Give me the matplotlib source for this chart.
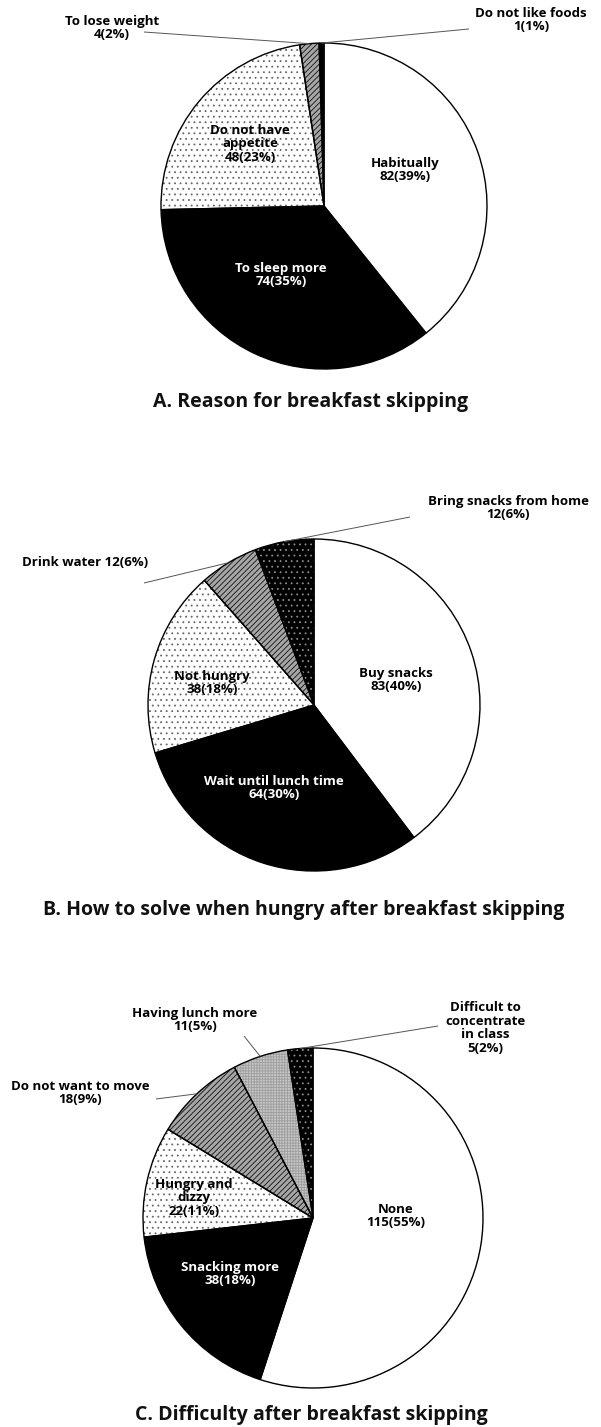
import numpy as np
import matplotlib
matplotlib.use("Agg")
import matplotlib.pyplot as plt

W, H = 601, 1427

# ---- data -------------------------------------------------------------
reason_labels = ["Habitually", "To sleep more", "Do not have\nappetite",
                 "To lose weight", "Do not like foods"]
reason_counts = [82, 74, 48, 4, 1]
reason_pcts   = [39, 35, 23, 2, 1]

hungry_labels = ["Buy snacks", "Wait until lunch time", "Not hungry",
                 "Drink water", "Bring snacks from home"]
hungry_counts = [83, 64, 38, 12, 12]
hungry_pcts   = [40, 30, 18, 6, 6]

diff_labels = ["None", "Snacking more", "Hungry and\ndizzy",
               "Do not want to move", "Having lunch more",
               "Difficult to\nconcentrate\nin class"]
diff_counts = [115, 38, 22, 18, 11, 5]
diff_pcts   = [55, 18, 11, 9, 5, 2]

titles = ["A. Reason for breakfast skipping",
          "B. How to solve when hungry after breakfast skipping",
          "C. Difficulty after breakfast skipping"]

# ---- styles -----------------------------------------------------------
# (face, hatch, hatch colour, text colour)
STYLE = {
    "white":    ("white",   None,      "black",   "black"),
    "black":    ("black",   None,      "black",   "white"),
    "dots":     ("white",   "...",     "#666666", "black"),
    "diag":     ("#a6a6a6", "//////",  "#111111", "black"),
    "grid":     ("#c6c6c6", "++++++",  "#9e9e9e", "black"),
    "darkdots": ("black",   "...",     "#8c8c8c", "white"),
}

plt.rcParams["font.family"] = ["Open Sans", "DejaVu Sans"]
plt.rcParams["hatch.linewidth"] = 0.6

LABEL_FS = 9.5
TITLE_FS = 14


def py(y):
    """image row (top origin) -> data y"""
    return H - y


# layout for each pie: centre, radius, style names, label positions,
# label separators and leader line start points (None = inside label)
pies = [
    dict(labels=reason_labels, counts=reason_counts, pcts=reason_pcts,
         center=(324, 206), r=163,
         styles=["white", "black", "dots", "diag", "black"],
         pos=[(405, 170), (281, 275), (250, 144), (112, 28), (531, 20)],
         sep=["\n"] * 5,
         lead=[None, None, None, (144, 32), (469, 29)],
         title_pos=(311, 402)),
    dict(labels=hungry_labels, counts=hungry_counts, pcts=hungry_pcts,
         center=(314, 705), r=166,
         styles=["white", "black", "dots", "diag", "darkdots"],
         pos=[(396, 680), (274, 788), (212, 683), (85, 562), (508, 508)],
         sep=["\n", "\n", "\n", " ", "\n"],
         lead=[None, None, None, (144, 583), (410, 517)],
         title_pos=(304, 910)),
    dict(labels=diff_labels, counts=diff_counts, pcts=diff_pcts,
         center=(313, 1218), r=170,
         styles=["white", "black", "dots", "diag", "grid", "darkdots"],
         pos=[(396, 1216), (230, 1274), (194, 1198), (80, 1093),
              (195, 1020), (485, 1028)],
         sep=["\n"] * 6,
         lead=[None, None, None, (156, 1099), (244, 1036), (438, 1026)],
         title_pos=(311, 1415)),
]

fig = plt.figure(figsize=(W / 100, H / 100), dpi=100)
ax = fig.add_axes([0, 0, 1, 1])

for p in pies:
    cx, cy = p["center"]
    c = (cx, py(cy))

    # fills and hatches
    wedges, _ = ax.pie(p["counts"], startangle=90, counterclock=False,
                       center=c, radius=p["r"])
    for w, s in zip(wedges, p["styles"]):
        fc, hatch, hc, _tc = STYLE[s]
        w.set_facecolor(fc)
        w.set_edgecolor(hc)
        w.set_linewidth(0)
        if hatch:
            w.set_hatch(hatch)

    # outlines
    ax.pie(p["counts"], startangle=90, counterclock=False, center=c,
           radius=p["r"],
           wedgeprops=dict(fill=False, edgecolor="black", linewidth=1.0))

    for i, w in enumerate(wedges):
        tc = STYLE[p["styles"][i]][3]
        txt = f"{p['labels'][i]}{p['sep'][i]}{p['counts'][i]}({p['pcts'][i]}%)"
        lx, ly = p["pos"][i]
        if p["lead"][i] is not None:
            tc = "black"
            mid = np.deg2rad((w.theta1 + w.theta2) / 2)
            ex = c[0] + p["r"] * np.cos(mid)
            ey = c[1] + p["r"] * np.sin(mid)
            sx, sy = p["lead"][i]
            ax.plot([sx, ex], [py(sy), ey], color="#555555", lw=0.7,
                    solid_capstyle="butt")
        ax.text(lx, py(ly), txt, ha="center", va="center", color=tc,
                fontsize=LABEL_FS, fontweight="bold", linespacing=1.05)

for t, p in zip(titles, pies):
    tx, ty = p["title_pos"]
    ax.text(tx, py(ty), t, ha="center", va="center", fontsize=TITLE_FS,
            fontweight="bold", color="#111111")

ax.set_xlim(0, W)
ax.set_ylim(0, H)
ax.set_aspect("equal")
ax.axis("off")

fig.savefig("out.png", dpi=100, facecolor="white")
